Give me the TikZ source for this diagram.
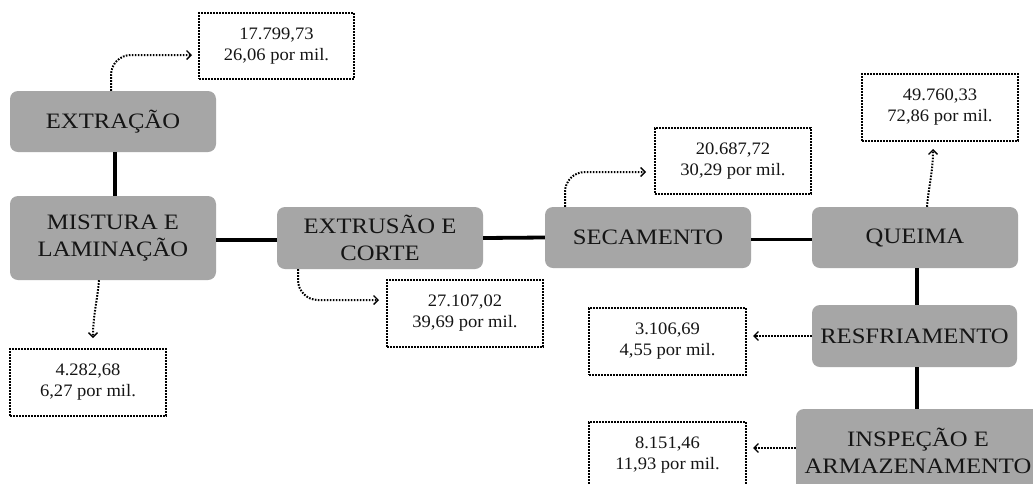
\documentclass[tikz,border=0pt]{standalone}
\usepackage{fontspec}
\usetikzlibrary{arrows.meta}
\newfontfamily\bigf{Liberation Serif}[FakeStretch=1.12]
\newfontfamily\smallf{Liberation Serif}[FakeStretch=1.06]
\definecolor{boxgray}{HTML}{A6A6A6}
\definecolor{txt}{HTML}{151515}
\tikzset{
  stage/.style={rectangle, rounded corners=8pt, fill=boxgray, draw=none, inner sep=0pt,
    minimum width=206pt, minimum height=61pt, align=center, text=txt,
    font=\bigf\fontsize{22}{26.5}\selectfont},
  valbox/.style={rectangle, draw=black, line width=2pt, dash pattern=on 1.6pt off 1.4pt,
    fill=white, inner sep=0pt, minimum width=156pt, minimum height=67pt, align=center,
    text=txt, font=\smallf\fontsize{17.5}{21}\selectfont},
  link/.style={line width=3.8pt, black},
  dotarrow/.style={line width=2pt, dash pattern=on 1.6pt off 1.4pt, black,
    -{Straight Barb[length=4.5pt,width=9pt,line width=1.3pt]}}
}
\begin{document}
\begin{tikzpicture}[x=1pt,y=-1pt]
\useasboundingbox (0,0) rectangle (1033,483);
\clip (0,0) rectangle (1033,483);
\fill[white] (0,0) rectangle (1033,483);
% stages
\node[stage] (ext) at (113,121.5) {EXTRAÇÃO};
\node[stage, minimum height=84pt] (mis) at (113,238) {MISTURA E\\LAMINAÇÃO};
\node[stage, minimum height=62pt] (extr) at (380,238) {EXTRUSÃO E\\CORTE};
\node[stage] (sec) at (648,237.5) {SECAMENTO};
\node[stage] (que) at (915,237.5) {QUEIMA};
\node[stage, minimum width=205pt, minimum height=62pt] (res) at (914.5,336) {RESFRIAMENTO};
\node[stage, minimum width=244pt, minimum height=84pt] (ins) at (918,451) {INSPEÇÃO E\\ARMAZENAMENTO};
% value boxes
\node[valbox, minimum width=155pt, minimum height=66pt] (d1) at (276.5,46) {17.799,73\\26,06 por mil.};
\node[valbox] (d2) at (88,382.5) {4.282,68\\6,27 por mil.};
\node[valbox] (d3) at (465,313.5) {27.107,02\\39,69 por mil.};
\node[valbox, minimum height=66pt] (d4) at (733,161) {20.687,72\\30,29 por mil.};
\node[valbox] (d5) at (940,107.5) {49.760,33\\72,86 por mil.};
\node[valbox, minimum width=157pt] (d6) at (667.5,341.5) {3.106,69\\4,55 por mil.};
\node[valbox, minimum width=157pt] (d7) at (667.5,455.5) {8.151,46\\11,93 por mil.};
% solid links
\draw[link] ([xshift=2pt]ext.south) -- ([xshift=2pt]mis.north);
\draw[link] ([yshift=-2pt]mis.east) -- ([yshift=-2pt]mis.east -| extr.west);
\draw[link] (extr.east) -- (sec.west);
\draw[link] ([yshift=-2pt]sec.east) -- ([yshift=-2pt]sec.east -| que.west);
\draw[link] ([xshift=2pt]que.south) -- ([xshift=2pt]que.south |- res.north);
\draw[link] ([xshift=2.5pt]res.south) -- ([xshift=2.5pt]res.south |- ins.north);
% dotted arrows
\draw[dotarrow, rounded corners=20pt] ([xshift=-2pt]ext.north) |- ([xshift=-6pt,yshift=-9pt]d1.west);
\draw[dotarrow] ([xshift=-14pt]mis.south) to[out=-95,in=90] ([xshift=5pt,yshift=10pt]d2.north);
\draw[dotarrow, rounded corners=20pt] ([xshift=-82pt]extr.south) |- ([xshift=-7pt,yshift=13.5pt]d3.west);
\draw[dotarrow, rounded corners=20pt] ([xshift=-83pt]sec.north) |- ([xshift=-8pt,yshift=-11pt]d4.west);
\draw[dotarrow] ([xshift=12pt]que.north) to[out=85,in=-90] ([xshift=-7pt,yshift=-7pt]d5.south);
\draw[dotarrow, shorten >=6pt] (res.west) -- (res.west -| d6.east);
\draw[dotarrow, shorten >=6pt] ([yshift=3pt]ins.west) -- ([yshift=3pt]ins.west -| d7.east);
\end{tikzpicture}
\end{document}
